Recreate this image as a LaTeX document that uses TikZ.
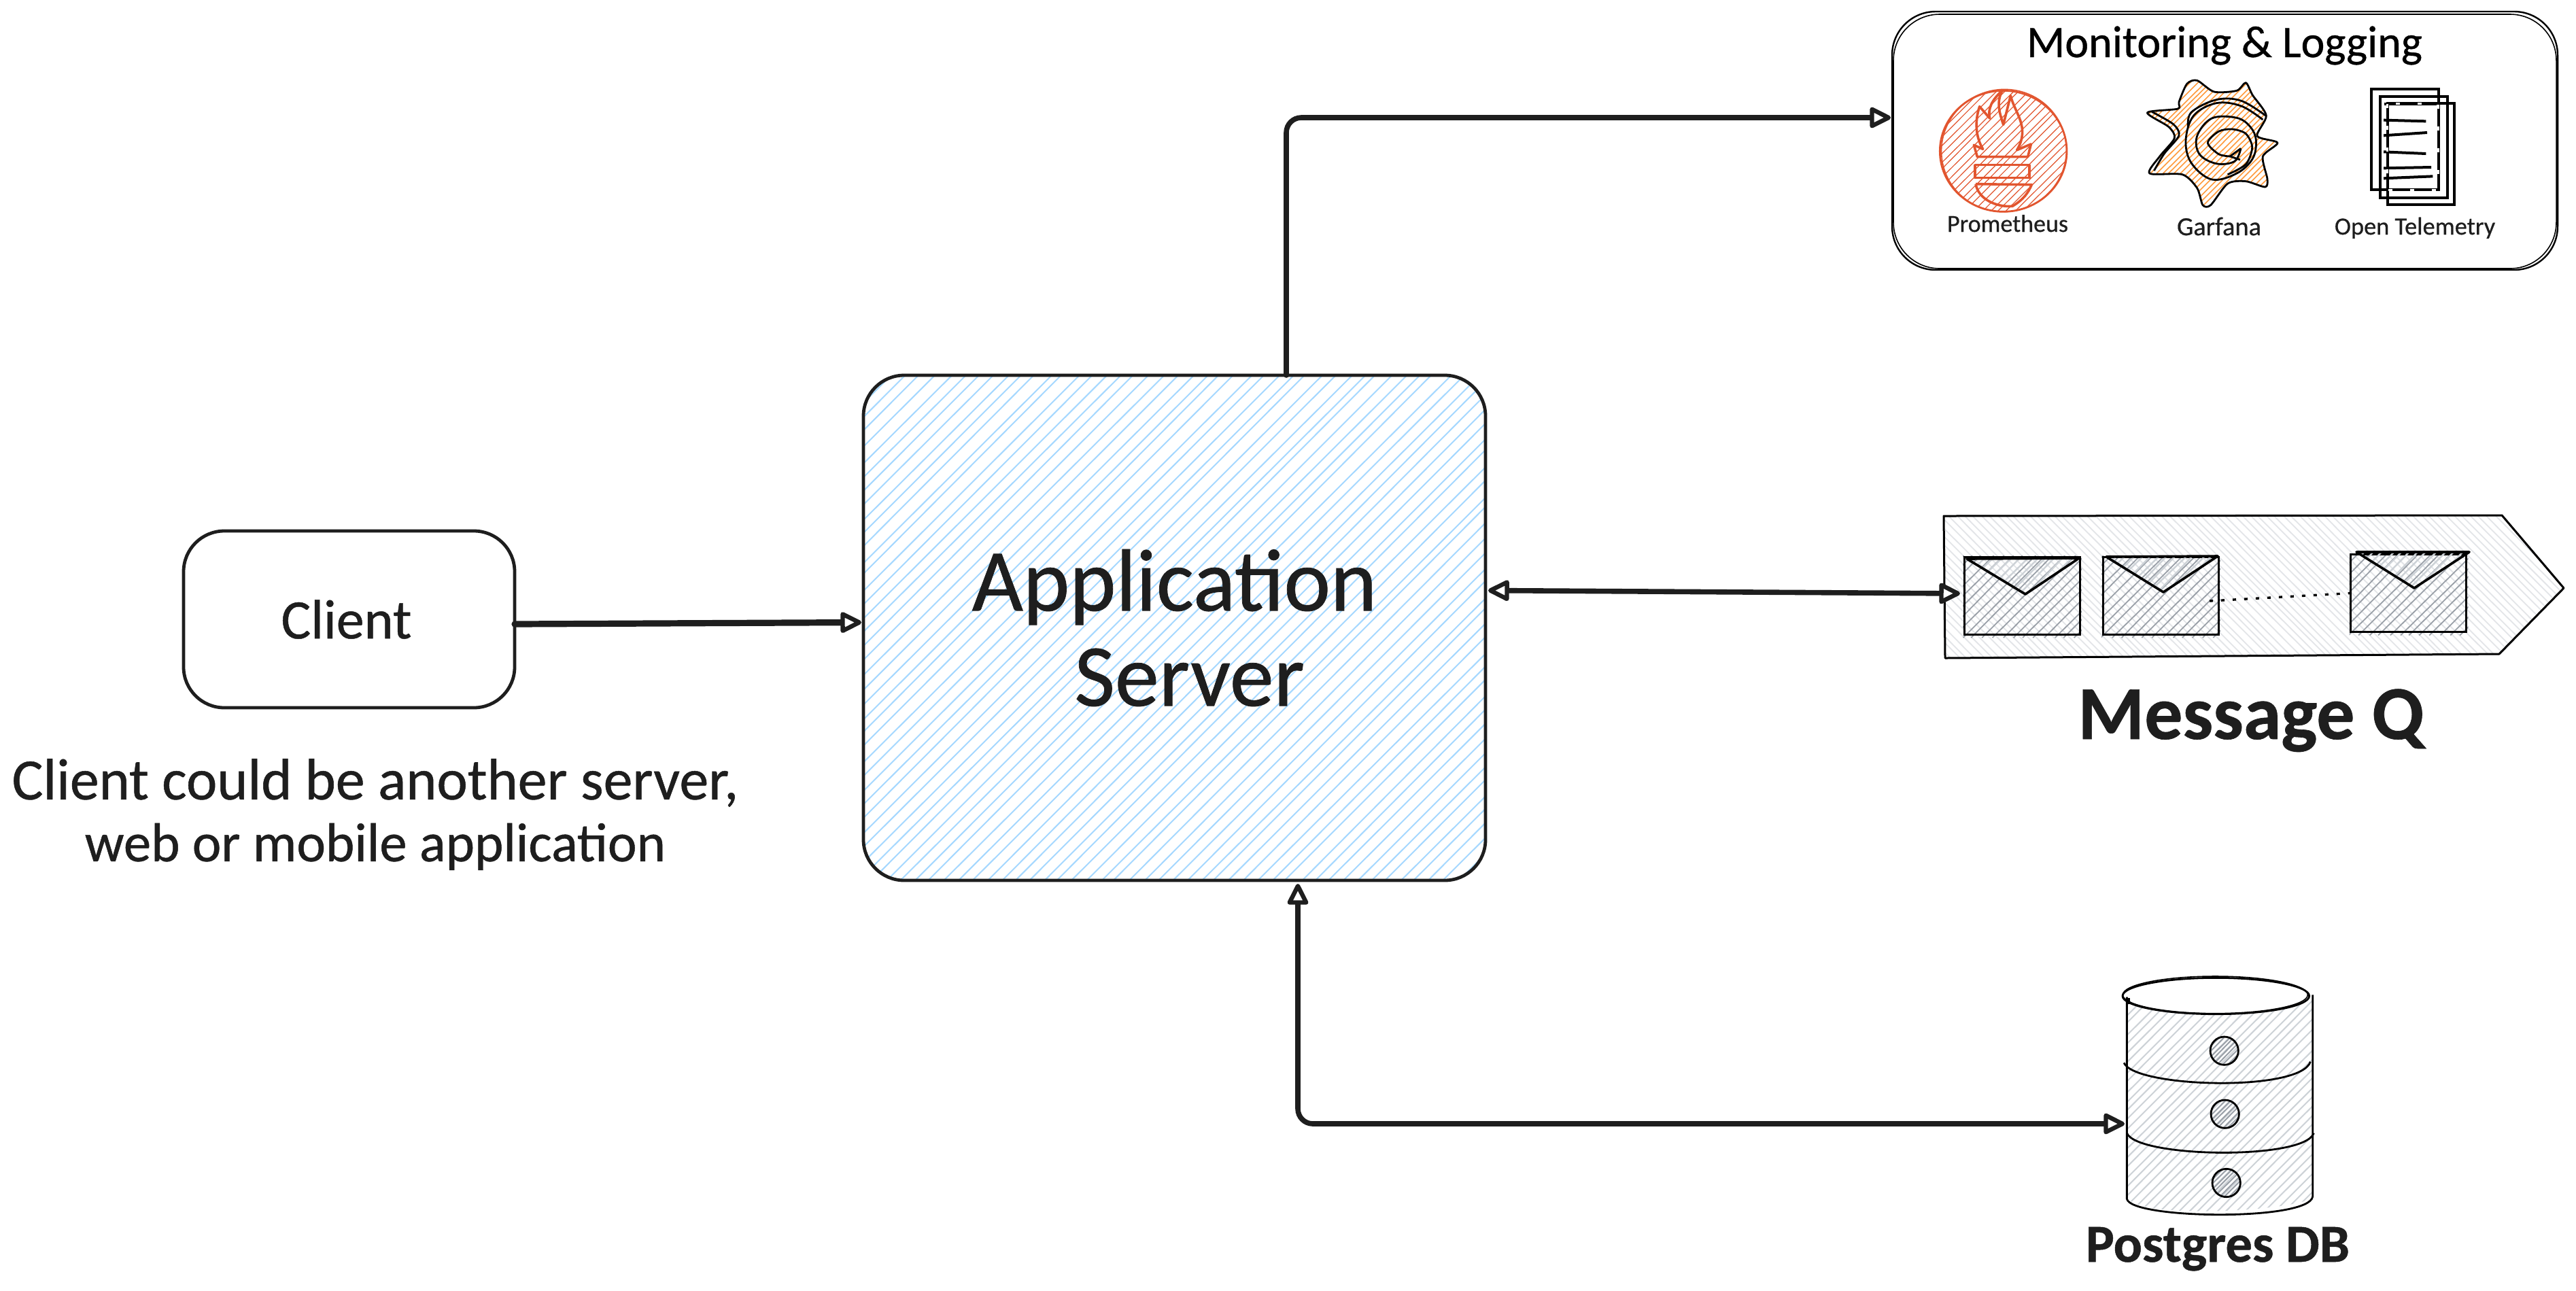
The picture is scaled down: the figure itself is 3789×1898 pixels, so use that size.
\documentclass[tikz,border=0pt]{standalone}
\usepackage{fontspec}
\setmainfont[FakeBold=0.6]{Carlito}
\usetikzlibrary{arrows.meta,calc}
\definecolor{ink}{HTML}{1E1E1E}
\definecolor{skyhatch}{HTML}{A5D8FF}
\definecolor{palehatch}{HTML}{E3E5E8}
\definecolor{greyhatch}{HTML}{9AA0A8}
\definecolor{dbhatch}{HTML}{CDD2D7}
\definecolor{promred}{HTML}{E2552F}
\definecolor{grafor}{HTML}{FF9A3C}
\newcommand\fsz[1]{\fontsize{#1}{#1}\selectfont}
% hatching lines inside box (x0,y0)-(x1,y1): spacing, style
\newcommand\hatchup[6]{%
  \pgfmathtruncatemacro\nn{((#3)-(#1)+(#4)-(#2))/(#5)}%
  \foreach \k in {0,...,\nn}{%
    \pgfmathsetmacro\xa{(#1)-((#4)-(#2))+\k*(#5)+rand*(#5)*0.12}%
    \pgfmathsetmacro\xb{\xa+(#4)-(#2)+rand*(#5)*0.2}%
    \draw[#6] (\xa,#4) -- (\xb,#2);}}
\newcommand\hatchdown[6]{%
  \pgfmathtruncatemacro\nn{((#3)-(#1)+(#4)-(#2))/(#5)}%
  \foreach \k in {0,...,\nn}{%
    \pgfmathsetmacro\xa{(#1)-((#4)-(#2))+\k*(#5)+rand*(#5)*0.12}%
    \pgfmathsetmacro\xb{\xa+(#4)-(#2)+rand*(#5)*0.2}%
    \draw[#6] (\xa,#2) -- (\xb,#4);}}
\tikzset{
  htip/.tip={Triangle[length=8.75pt,width=8.25pt,fill=white,round,line width=1.6pt]},
  conn/.style={draw=ink,line width=1.9pt,line cap=round},
  box/.style={draw=ink,line width=1.2pt,inner sep=0pt,outer sep=0pt,align=center,text=ink},
  txt/.style={inner sep=0pt,outer sep=0pt,text=ink,align=center},
  labelb/.style={txt,anchor=base},
  envbox/.style={draw=black,line width=0.75pt,inner sep=0pt,outer sep=0pt,minimum width=42.5pt,minimum height=28.5pt},
  envline/.style={draw=black,line width=0.9pt,line join=round},
  sk/.style={draw=black,line width=0.7pt},
  redl/.style={draw=promred,line width=0.7pt,line join=round},
  orl/.style={draw=black,line width=0.7pt,line join=round},
  otl/.style={draw=black,line width=1pt},
}
\begin{document}
\begin{tikzpicture}[x=0.25pt,y=-0.25pt]
\pgfmathsetseed{11}
\useasboundingbox (0,0) rectangle (3789,1898);
\fill[white] (0,0) rectangle (3789,1898);

% ---------- Application server ----------
\begin{scope}
  \clip[rounded corners=15pt] (1270,552) rectangle (2185,1295);
  \hatchup{1270}{552}{2185}{1295}{21}{skyhatch,line width=0.5pt}
\end{scope}
\node[box,minimum width=228.75pt,minimum height=185.75pt,rounded corners=15pt,
      font=\fontsize{32.5}{35}\selectfont] (app) at (1727.5,923.5) {Application\\\hspace*{11pt}Server};

% ---------- Client ----------
\node[box,minimum width=121.75pt,minimum height=65pt,rounded corners=15pt,font=\fsz{20.5}] (client) at (513.5,911) {Client\hspace*{2pt}};
\node[txt,font=\fontsize{21.5}{22.75}\selectfont] (clientnote) at (552,1198) {Client could be another server,\\\fontsize{20.2}{22.75}\selectfont web or mobile application};

% ---------- Monitoring & Logging ----------
\node[box,draw=black,line width=0.6pt,minimum width=244.75pt,minimum height=95pt,rounded corners=16pt] (mon) at (3272.5,207) {};
\draw[sk,line width=0.4pt,rounded corners=17pt] (2785,21) rectangle (3760,395);
\node[labelb,text=black,font=\fsz{16.5}] (montitle) at (3272,84) {Monitoring \& Logging};

% Prometheus icon (zoom coordinates)
\begin{scope}[shift={(2770,0)},scale=1/3]
  \begin{scope}
    \clip (530,667) ellipse (282 and 270);
    \hatchup{250}{397}{812}{937}{36}{promred,line width=0.3pt}
  \end{scope}
  \draw[redl] (530,667) ellipse (280 and 267);
  \draw[redl,line width=0.4pt,rotate around={12:(530,667)}] (533,665) ellipse (276 and 270);
  \draw[redl,line width=0.9pt] (415,692) -- (400,640) -- (440,658) .. controls (405,600) and (405,530) .. (425,470)
    -- (470,522) .. controls (460,480) and (480,440) .. (525,400)
    .. controls (500,450) and (510,490) .. (530,550) -- (562,422)
    .. controls (580,500) and (650,560) .. (590,662) -- (652,636) -- (638,692) -- cycle;
  \draw[redl,line width=0.9pt] (405,728) rectangle (645,785);
  \draw[redl,line width=0.9pt] (408,812) -- (655,815) .. controls (640,850) and (620,880) .. (570,910)
    .. controls (500,915) and (420,880) .. (408,812);
\end{scope}
\node[labelb,font=\fsz{9}] (lprom) at (2953,341) {Prometheus};

% Garfana icon (zoom coordinates)
\begin{scope}[shift={(2770,0)},scale=1/3]
  \begin{scope}
    \clip plot[smooth cycle,tension=0.45] coordinates {(1165,497) (1300,480) (1305,450) (1340,370) (1385,355) (1460,405) (1560,400) (1600,365) (1630,420) (1690,510) (1650,600) (1740,630) (1675,690) (1695,790) (1685,825) (1600,800) (1520,810) (1445,905) (1410,905) (1385,830) (1320,770) (1175,765) (1220,690) (1285,610) (1260,560)};
    \hatchup{1160}{350}{1745}{910}{27}{grafor,line width=0.4pt}
  \end{scope}
  \draw[orl] plot[smooth cycle,tension=0.45] coordinates {(1165,497) (1300,480) (1305,450) (1340,370) (1385,355) (1460,405) (1560,400) (1600,365) (1630,420) (1690,510) (1650,600) (1740,630) (1675,690) (1695,790) (1685,825) (1600,800) (1520,810) (1445,905) (1410,905) (1385,830) (1320,770) (1175,765) (1220,690) (1285,610) (1260,560)};
  \draw[orl,xshift=5,yshift=3] plot[smooth,tension=0.45] coordinates {(1175,765) (1220,690) (1285,610) (1260,560) (1165,505)};
  \draw[orl] plot[smooth,tension=0.6] coordinates {(1675,528) (1580,468) (1470,455) (1370,510) (1335,620) (1360,720) (1450,792) (1560,765) (1630,700) (1645,620) (1620,560) (1560,520) (1450,522) (1385,600) (1395,680) (1470,722) (1550,712) (1578,655)};
  \draw[orl] plot[smooth,tension=0.6] coordinates {(1690,512) (1580,445) (1470,440) (1360,495) (1345,560)};
  \draw[orl] (1578,655) -- (1530,690) -- (1575,705);
  \draw[orl] plot[smooth,tension=0.5] coordinates {(1530,690) (1480,680) (1432,630) (1480,580) (1540,570) (1600,590) (1628,650) (1600,725) (1520,770)};
\end{scope}
\node[labelb,font=\fsz{9.6}] (lgraf) at (3264,346) {Garfana};

% Open Telemetry icon (zoom coordinates)
\begin{scope}[shift={(3270,0)},scale=1/3]
  \draw[otl] (655,392) rectangle (950,838);
  \draw[otl] (693,427) rectangle (990,872);
  \draw[otl] (725,457) rectangle (1020,903);
  \draw[otl] (710,458) -- (945,458);
  \foreach \ya/\yb/\xe in {530/535/895,598/585/900,670/678/895,742/738/918,787/778/925}{
    \draw[otl] (708,\ya) -- (\xe,\yb);}
  \draw[white,line width=0.8pt,dash pattern=on 1.5pt off 6.5pt] (725,458) -- (725,838) -- (948,838) -- (948,458) -- cycle;
\end{scope}
\node[labelb,font=\fsz{9.1}] (lotel) at (3552,345) {Open Telemetry};

% ---------- Message queue ----------
\begin{scope}
  \clip (2859,759) -- (3680,758) -- (3771,865) -- (3676,962) -- (2861,968) -- cycle;
  \hatchdown{2859}{758}{3771}{968}{12}{palehatch,line width=0.45pt}
\end{scope}
\draw[draw=black,line width=0.75pt,line join=round] (2859,759) -- (3680,758) -- (3771,865) -- (3676,962) -- (2861,968) -- cycle;
\draw[draw=black,line width=0.4pt] (3682,760) -- (3768,862);

\foreach \cx/\cy/\nm in {2974/876/env1,3178/876/env2,3542.5/872.5/env3}{
  \begin{scope}
    \clip (\cx-87,\cy-59) rectangle (\cx+88,\cy+62);
    \hatchup{\cx-87}{\cy-59}{\cx+88}{\cy+62}{15}{greyhatch,line width=0.45pt}
  \end{scope}
  \node[envbox] (\nm) at (\cx,\cy) {};
}
% envelope flaps
\begin{scope}
  \clip (2893,822) -- (2979,874) -- (3058,821) -- cycle;
  \hatchup{2893}{820}{3060}{875}{13}{dbhatch,line width=0.6pt}
\end{scope}
\begin{scope}
  \clip (3098,819) -- (3182,871) -- (3262,818) -- cycle;
  \hatchup{3098}{818}{3262}{872}{13}{dbhatch,line width=0.6pt}
\end{scope}
\begin{scope}
  \clip (3466,812) -- (3551,865) -- (3632,812) -- cycle;
  \hatchup{3466}{812}{3632}{865}{13}{dbhatch,line width=0.6pt}
\end{scope}
\draw[envline] (2893,822) -- (2979,874) -- (3058,821) -- cycle;
\draw[envline] (3098,819) -- (3182,871) -- (3262,818) -- cycle;
\draw[envline] (3466,812) -- (3551,865) -- (3632,812) -- cycle;
\draw[draw=black,line width=0.85pt,dash pattern=on 1.25pt off 3pt] (3250,884) -- (env3.west);
\node[labelb,font=\bfseries\fsz{28}] (lmq) at (3311,1087) {Message Q};

% ---------- Postgres DB (zoom coordinates) ----------
\node[inner sep=0pt,outer sep=0pt,minimum width=68.5pt,minimum height=82pt] (db) at (3265,1623) {};
\begin{scope}[shift={(3000,1400)},scale=1/3]
  \begin{scope}
    \clip (385,195) arc[start angle=180,end angle=360,x radius=410,y radius=-80] -- (1205,1080) .. controls (1180,1140) and (420,1190) .. (385,1080) -- cycle;
    \hatchup{385}{115}{1205}{1165}{42}{dbhatch,line width=0.5pt}
  \end{scope}
  \draw[sk] (385,200) -- (385,1090) .. controls (400,1180) and (1190,1190) .. (1205,1080) -- (1205,190);
  \draw[sk] (395,205) -- (395,230);
  \draw[sk] (778,195) ellipse (412 and 80);
  \draw[sk,line width=0.4pt] (775,190) ellipse (408 and 82);
  \draw[sk] (372,490) .. controls (420,600) and (1150,620) .. (1195,485);
  \draw[sk] (385,800) .. controls (430,910) and (1170,920) .. (1210,800);
  \foreach \dx/\dy in {815/437,818/716,824/1020}{
    \begin{scope}
      \clip (\dx,\dy) circle[radius=62];
      \hatchup{\dx-62}{\dy-62}{\dx+62}{\dy+62}{22}{greyhatch,line width=0.5pt}
    \end{scope}
    \draw[sk] (\dx,\dy) circle[radius=62];
  }
\end{scope}
\node[labelb,font=\bfseries\fsz{19.7}] (ldb) at (3262,1856) {Postgres DB};

% ---------- Connectors ----------
\draw[conn,rounded corners=5.5pt,-{htip}] (1892,0 |- app.north) |- ([shift={(-2,-34)}]mon.west);
\draw[conn,{htip}-{htip}] ([shift={(4,-55)}]app.east) -- ([shift={(-6,-3)}]env1.west);
\draw[conn,line width=2.3pt,-{htip}] ([yshift=-7*0.25pt]client.east) -- ([shift={(-3,-8)}]app.west);
\draw[conn,rounded corners=5.5pt,{htip}-{htip}] ([yshift=-5*0.25pt]1909,0 |- app.south) |- ([shift={(-3,30)}]db.west);
\end{tikzpicture}
\end{document}
